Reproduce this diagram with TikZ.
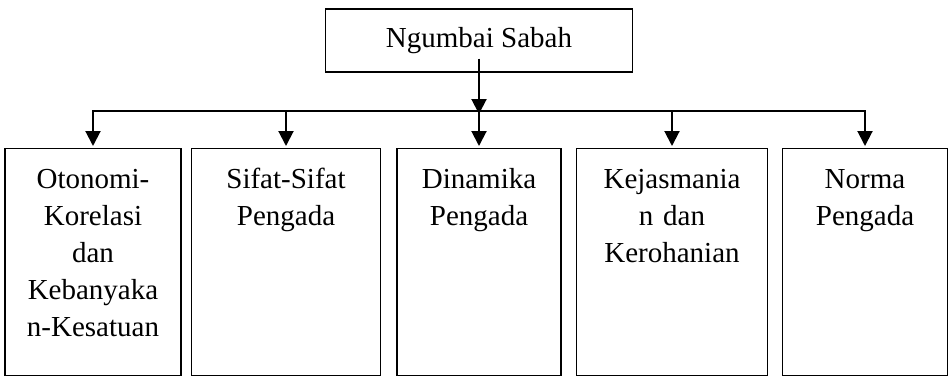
\documentclass[tikz,border=0pt]{standalone}
\usepackage{fontspec}
\setmainfont{Liberation Serif}
\usetikzlibrary{trees,arrows.meta}

\begin{document}
\begin{tikzpicture}[x=1pt,y=1pt,level distance=107.5pt]
	\tikzstyle{every node}=[draw,line width=1.2pt,inner sep=0pt,align=center,
	font=\fontsize{29}{37}\selectfont]
	\tikzstyle{level 1}=[sibling distance=193pt]
	\tikzstyle{branch}=[anchor=north,text height=40pt,text depth=187pt]
	\tikzstyle{edge from parent}=[draw,line width=2pt,
	-{Triangle[length=15pt,width=15pt]},shorten >=2pt]
	\useasboundingbox (0,0) rectangle (952,-376);
	% bar where the branches split
	\coordinate (bar) at (479,-111);
	\node (root) at (479,-40.5) [minimum width=307pt,minimum height=63pt] {Ngumbai Sabah}
	[edge from parent path={(\tikzparentnode |- bar) -| (\tikzchildnode.north)}]
	child {node[branch,text width=176pt] (otonomi) {Otonomi-\\Korelasi\\dan\\Kebanyaka\\n-Kesatuan}}
	child {node[branch,text width=189pt] (sifat) {Sifat-Sifat\\Pengada}}
	child {node[branch,text width=164pt] (dinamika) {Dinamika\\Pengada}}
	child {node[branch,text width=191pt] (kejasmanian) {Kejasmania\\n dan\\Kerohanian}}
	child {node[branch,text width=165pt] (norma) {Norma\\Pengada}};
	\draw[line width=2pt,-{Triangle[length=15pt,width=15pt]}] ([yshift=-18pt]root.center) -- ([yshift=-3pt]bar);
\end{tikzpicture}
\end{document}
